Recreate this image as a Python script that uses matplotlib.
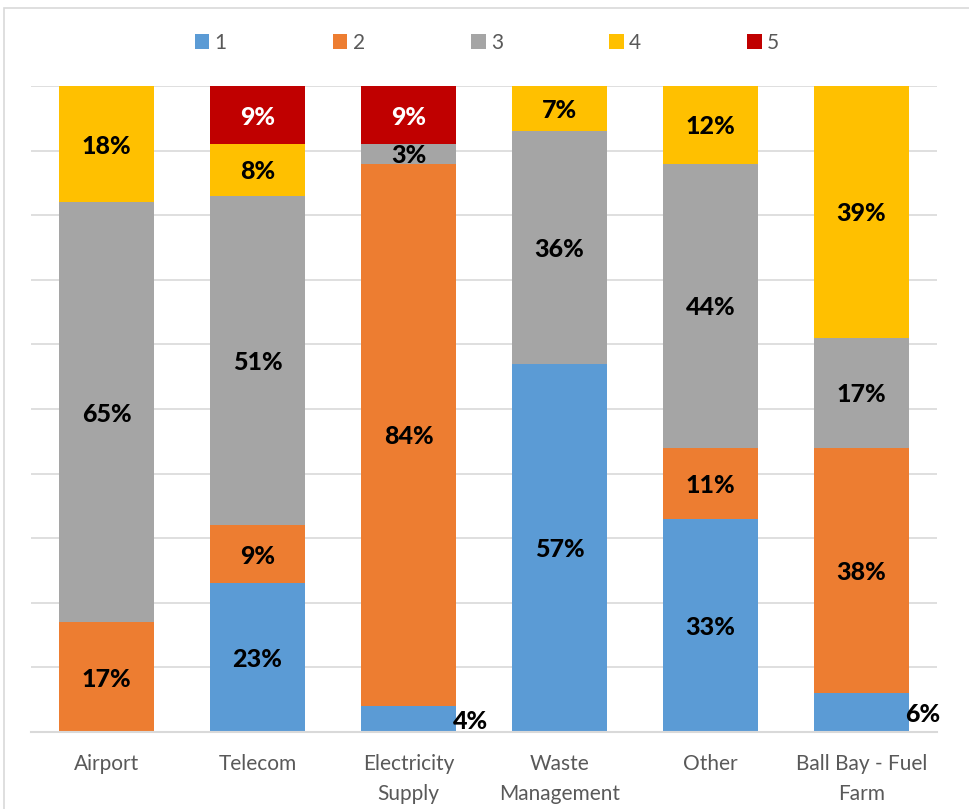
import matplotlib
matplotlib.use("Agg")
import matplotlib.pyplot as plt
from matplotlib.patches import Rectangle
import numpy as np

categories = ["Airport", "Telecom", "Electricity\nSupply", "Waste\nManagement", "Other", "Ball Bay - Fuel\nFarm"]
series_names = ["1", "2", "3", "4", "5"]
s1 = [0, 23, 4, 57, 33, 6]
s2 = [17, 9, 84, 0, 11, 38]
s3 = [65, 51, 3, 36, 44, 17]
s4 = [18, 8, 0, 7, 12, 39]
s5 = [0, 9, 9, 0, 0, 0]
colors = ["#5B9BD5", "#ED7D31", "#A5A5A5", "#FFC000", "#C00000"]
label_colors = ["black", "black", "black", "black", "white"]

plt.rcParams['font.family'] = ['Lato', 'DejaVu Sans']

W, H = 969, 809
fig = plt.figure(figsize=(W / 100, H / 100), dpi=100)
ax = fig.add_axes([31 / W, 1 - 732 / H, (937 - 31) / W, (732 - 86) / H])

# border around chart
fig.patches.append(Rectangle((4 / W, -0.05), 1.2, 1 - 8 / H + 0.05, transform=fig.transFigure,
                             fill=False, edgecolor="#d9d9d9", linewidth=1.2))

data = [s1, s2, s3, s4, s5]
x = np.arange(len(categories))
bw = 0.623
bottom = np.zeros(len(categories))
for k, vals in enumerate(data):
    vals = np.array(vals, dtype=float)
    ax.bar(x, vals, bw, bottom=bottom, color=colors[k], label=series_names[k], zorder=2)
    for i, v in enumerate(vals):
        if v <= 0:
            continue
        yc = bottom[i] + v / 2
        if k == 0 and v < 8:
            ax.text(x[i] + bw / 2 - 0.02, yc, f"{int(v)}%", ha="left", va="center_baseline",
                    fontsize=18, fontweight="black", color="black", zorder=3)
        else:
            ax.text(x[i], yc, f"{int(v)}%", ha="center", va="center_baseline",
                    fontsize=18, fontweight="black", color=label_colors[k], zorder=3)
    bottom += vals

ax.set_xlim(-0.5, len(categories) - 0.5)
ax.set_ylim(0, 100)
ax.set_yticks(np.arange(0, 101, 10))
ax.yaxis.grid(True, color="#d9d9d9", linewidth=1.2, zorder=0)
ax.tick_params(axis="y", left=False, labelleft=False)
ax.set_xticks(x)
ax.set_xticklabels(categories, fontsize=15, color="#595959", linespacing=1.6)
ax.tick_params(axis="x", length=0, pad=16)
for sp in ["top", "right", "left"]:
    ax.spines[sp].set_visible(False)
ax.spines["bottom"].set_color("#d9d9d9")
ax.spines["bottom"].set_linewidth(1.5)
ax.set_axisbelow(True)

leg = fig.legend(loc="center", bbox_to_anchor=(487 / W, 1 - 43 / H), ncol=5, frameon=False,
                 fontsize=15, handlelength=0.7, handleheight=0.7, handletextpad=0.25,
                 columnspacing=5.1, borderaxespad=0)
for t in leg.get_texts():
    t.set_color("#595959")

fig.savefig("out.png", dpi=100)
